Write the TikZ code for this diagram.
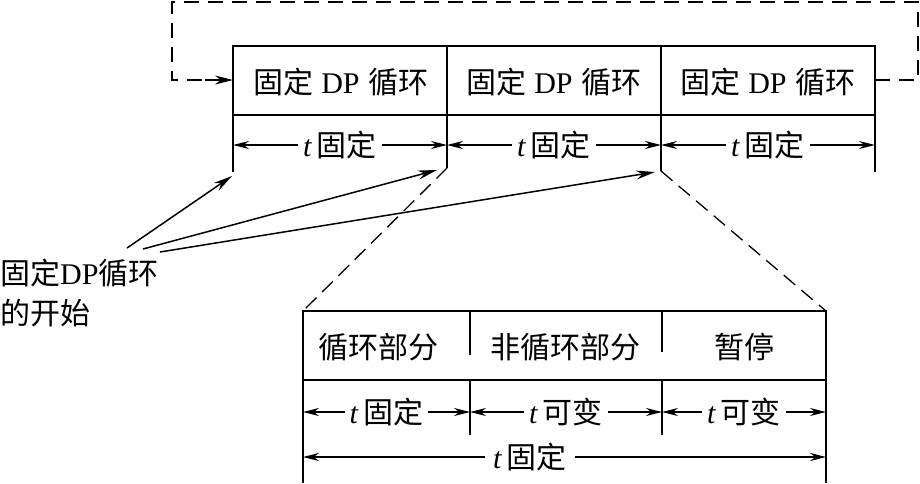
\documentclass[tikz,border=0pt]{standalone}
\usepackage{fontspec}
\setmainfont{Liberation Serif}
\newfontfamily\cjk{Noto Sans CJK SC}
\usetikzlibrary{arrows.meta}
\begin{document}
\begin{tikzpicture}[x=1pt,y=-1pt,
  thickln/.style={line width=2.6pt},
  thinln/.style={line width=1.3pt},
  dimarrow/.style={thinln,{Stealth[length=16pt,width=8pt]}-{Stealth[length=16pt,width=8pt]}},
  dimlbl/.style={fill=white,inner xsep=5pt,inner ysep=1pt,font=\fontsize{30}{32}\selectfont},
  txt/.style={font=\fontsize{30}{32}\selectfont, inner sep=0pt},
  loopdash/.style={line width=2.2pt, dash pattern=on 15pt off 9pt},
  zoomdash/.style={line width=1.3pt, dash pattern=on 15pt off 8pt},
  ptr/.style={line width=1.5pt, -{Stealth[length=19pt,width=9pt]}}
]
\useasboundingbox (0,0) rectangle (920,483);

% ---- top row coordinates
\coordinate (T0) at (233,46);  \coordinate (T3) at (875,46);
\coordinate (T1) at (447,46);  \coordinate (T2) at (661,46);
\coordinate (M0) at (233,115); \coordinate (M1) at (447,115);
\coordinate (M2) at (661,115); \coordinate (M3) at (875,115);
\coordinate (E0) at (233,172); \coordinate (E1) at (447,168);
\coordinate (E2) at (661,171); \coordinate (E3) at (875,172);
\coordinate (D0) at (233,145); \coordinate (D1) at (447,145);
\coordinate (D2) at (661,145); \coordinate (D3) at (875,145);

% dashed feedback loop
\coordinate (LIn) at (233,80);
\coordinate (LOut) at (875,80);
\coordinate (LR) at (918,80);
\coordinate (LRT) at (918,2);
\coordinate (LLT) at (172,2);
\coordinate (LL) at (172,80);
\draw[loopdash] (LOut) -- (LR) -- (LRT) -- (LLT) -- (LL) -- (LIn);
\draw[line width=1.5pt,-{Stealth[length=18pt,width=9pt]}] (205,80) -- (LIn);

% top boxes
\draw[thickln] (T0) rectangle (M3);
\draw[thickln] (T1) -- (M1);
\draw[thickln] (T2) -- (M2);
\node[txt] (b1) at (341,82) {{\cjk 固定}\hspace{8pt}DP\hspace{9pt}{\cjk 循环}};
\node[txt] (b2) at (554,82) {{\cjk 固定}\hspace{8pt}DP\hspace{9pt}{\cjk 循环}};
\node[txt] (b3) at (768,82) {{\cjk 固定}\hspace{8pt}DP\hspace{9pt}{\cjk 循环}};

% ticks and dimensions
\draw[thinln] (M0) -- (E0);
\draw[thinln] (M1) -- (E1);
\draw[thinln] (M2) -- (E2);
\draw[thinln] (M3) -- (E3);
\draw[dimarrow] (D0) -- (D1) node[dimlbl,midway] (dl1) {\textit{t}\,{\cjk 固定}};
\draw[dimarrow] (D1) -- (D2) node[dimlbl,midway] (dl2) {\textit{t}\,{\cjk 固定}};
\draw[dimarrow] (D2) -- (D3) node[dimlbl,midway] (dl3) {\textit{t}\,{\cjk 固定}};

% label and pointers
\node[txt,anchor=west] (lab1) at (0,273) {{\cjk 固定}DP{\cjk 循环}};
\node[txt,anchor=west] (lab2) at (0,313) {\cjk 的开始};
\coordinate (P1) at (127,248);
\coordinate (P2) at (143,249);
\coordinate (P3) at (160,252);
\draw[ptr] (P1) -- (232,176);
\draw[ptr] (P2) -- (437,170);
\draw[ptr] (P3) -- (655,172);

% lower box coordinates
\coordinate (U0) at (303,311); \coordinate (U3) at (826,311);
\coordinate (U1) at (470,311); \coordinate (U2) at (662,311);
\coordinate (V0) at (303,380); \coordinate (V1) at (470,380);
\coordinate (V2) at (662,380); \coordinate (V3) at (826,380);
\coordinate (S1) at (470,355); \coordinate (S2) at (662,352);
\coordinate (W0) at (303,483); \coordinate (W3) at (826,483);
\coordinate (W1) at (470,435); \coordinate (W2) at (662,435);
\coordinate (R0) at (303,412); \coordinate (R1) at (470,412);
\coordinate (R2) at (662,412); \coordinate (R3) at (826,412);
\coordinate (Q0) at (303,457); \coordinate (Q3) at (826,457);

% zoom dashed lines
\draw[zoomdash] (E1) -- (U0);
\draw[zoomdash] (E2) -- (U3);

\draw[thickln] (U0) rectangle (V3);
\draw[thickln] (U1) -- (S1);
\draw[thickln] (U2) -- (S2);
\node[txt] (c1) at (378,347) {\cjk 循环部分};
\node[txt] (c2) at (565,347) {\cjk 非循环部分};
\node[txt] (c3) at (744,347) {\cjk 暂停};

\draw[thinln] (V0) -- (W0);
\draw[thinln] (V3) -- (W3);
\draw[thinln] (V1) -- (W1);
\draw[thinln] (V2) -- (W2);
\draw[dimarrow] (R0) -- (R1) node[dimlbl,midway] (f1) {\textit{t}\,{\cjk 固定}};
\draw[dimarrow] (R1) -- (R2) node[dimlbl,midway] (f2) {\textit{t}\,{\cjk 可变}};
\draw[dimarrow] (R2) -- (R3) node[dimlbl,midway] (f3) {\textit{t}\,{\cjk 可变}};
\draw[dimarrow] (Q0) -- (Q3);
\node[dimlbl,inner xsep=8pt] (ft) at (530,457) {\textit{t}\,{\cjk 固定}};
\end{tikzpicture}
\end{document}
